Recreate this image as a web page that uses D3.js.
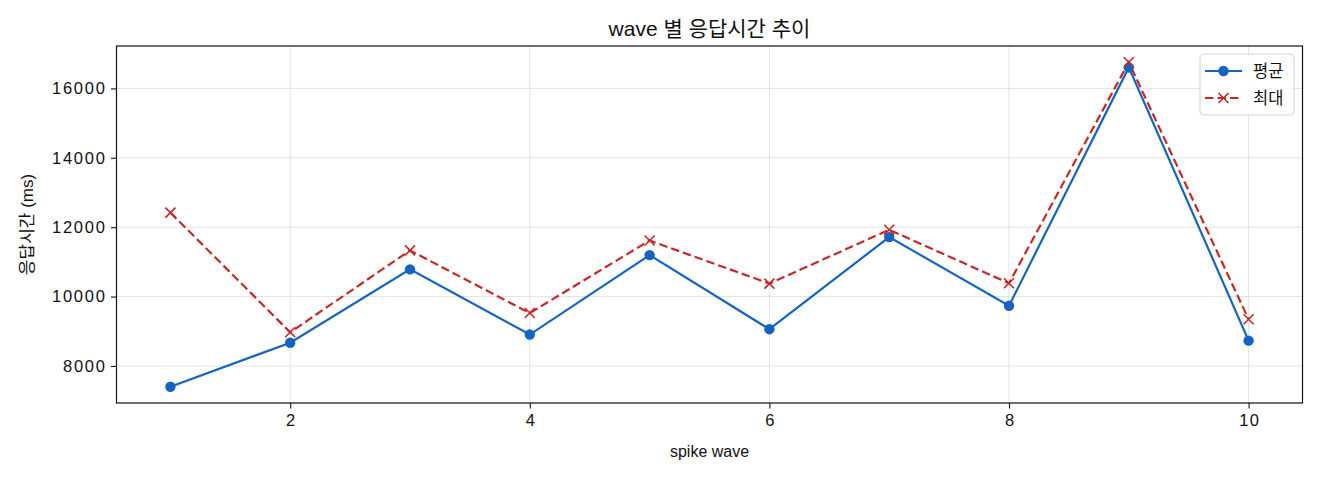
<!DOCTYPE html>
<html>
<head>
<meta charset="utf-8">
<script src="https://cdn.jsdelivr.net/npm/d3@7"></script>
<style>
  html, body { margin: 0; padding: 0; background: #ffffff; }
  svg { display: block; }
  text { font-family: "Liberation Sans", "Noto Sans CJK KR", sans-serif; fill: #111; }
</style>
</head>
<body>
<svg id="chart" width="1320" height="480"></svg>
<script>
// ---- data ----
const waves = [1, 2, 3, 4, 5, 6, 7, 8, 9, 10];
const avgValues = [7400, 8670, 10785, 8905, 11195, 9060, 11715, 9735, 16605, 8730];
const maxValues = [12420, 8970, 11330, 9525, 11615, 10375, 11925, 10383, 16755, 9345];
const xTicks = [2, 4, 6, 8, 10];
const yTicks = [8000, 10000, 12000, 14000, 16000];
const seriesNames = ["평균", "최대"];
const titleText = "wave 별 응답시간 추이";
const xLabel = "spike wave";
const yLabel = "응답시간 (ms)";

// ---- layout ----
const W = 1320, H = 480;
const M = { left: 116.5, right: 1320 - 1302.5, top: 46, bottom: 480 - 403 };
const blue = "#1565C0", red = "#C62828";

const svg = d3.select("#chart");

function padded(lo, hi) { const p = (hi - lo) * 0.05; return [lo - p, hi + p]; }
const allY = avgValues.concat(maxValues);
const x = d3.scaleLinear().domain(padded(d3.min(waves), d3.max(waves))).range([M.left, W - M.right]);
const y = d3.scaleLinear().domain(padded(d3.min(allY), d3.max(allY))).range([H - M.bottom, M.top]);

// grid
const grid = svg.append("g");
grid.selectAll("line.gx").data(xTicks).join("line")
  .attr("x1", d => x(d)).attr("x2", d => x(d))
  .attr("y1", M.top).attr("y2", H - M.bottom)
  .attr("stroke", "#e3e3e3").attr("stroke-width", 1);
grid.selectAll("line.gy").data(yTicks).join("line")
  .attr("y1", d => y(d)).attr("y2", d => y(d))
  .attr("x1", M.left).attr("x2", W - M.right)
  .attr("stroke", "#e3e3e3").attr("stroke-width", 1);

// axes
const xAxis = svg.append("g").attr("transform", `translate(0,${H - M.bottom})`)
  .call(d3.axisBottom(x).tickValues(xTicks).tickSize(5.5).tickPadding(6).tickFormat(d3.format("d")));
const yAxis = svg.append("g").attr("transform", `translate(${M.left},0)`)
  .call(d3.axisLeft(y).tickValues(yTicks).tickSize(5.5).tickPadding(6).tickFormat(d3.format("d")));
[xAxis, yAxis].forEach(a => {
  a.select(".domain").remove();
  a.selectAll(".tick line").attr("stroke", "#111").attr("stroke-width", 1.1);
  a.selectAll(".tick text").attr("font-size", 16.5)
    .attr("font-family", "\"Liberation Sans\", sans-serif").attr("fill", "#111");
});
xAxis.selectAll(".tick text").attr("letter-spacing", "1.5px").attr("dx", "0.75px");
yAxis.selectAll(".tick text").attr("letter-spacing", "1.8px").attr("dx", "1.8px");

// frame
svg.append("rect").attr("x", M.left).attr("y", M.top)
  .attr("width", W - M.left - M.right).attr("height", H - M.top - M.bottom)
  .attr("fill", "none").attr("stroke", "#111").attr("stroke-width", 1.2);

// lines
const line = d3.line().x((d, i) => x(waves[i])).y(d => y(d));
svg.append("path").datum(maxValues).attr("d", line)
  .attr("fill", "none").attr("stroke", red).attr("stroke-width", 2.2)
  .attr("stroke-dasharray", "8.5,4");
svg.append("path").datum(avgValues).attr("d", line)
  .attr("fill", "none").attr("stroke", blue).attr("stroke-width", 2.2);

// markers
svg.append("g").selectAll("circle").data(avgValues).join("circle")
  .attr("cx", (d, i) => x(waves[i])).attr("cy", d => y(d)).attr("r", 5.2).attr("fill", blue);
const xm = 5;
svg.append("g").selectAll("path").data(maxValues).join("path")
  .attr("d", (d, i) => {
    const cx = x(waves[i]), cy = y(d);
    return `M${cx - xm},${cy - xm}L${cx + xm},${cy + xm}M${cx - xm},${cy + xm}L${cx + xm},${cy - xm}`;
  })
  .attr("stroke", red).attr("stroke-width", 1.6).attr("fill", "none");

// title & labels
svg.append("text").attr("x", (M.left + W - M.right) / 2).attr("y", 36)
  .attr("text-anchor", "middle").attr("font-size", 21).text(titleText);
svg.append("text").attr("x", (M.left + W - M.right) / 2).attr("y", 457)
  .attr("text-anchor", "middle").attr("font-size", 16).text(xLabel);
svg.append("text")
  .attr("transform", `translate(33,${(M.top + H - M.bottom) / 2}) rotate(-90)`)
  .attr("text-anchor", "middle").attr("font-size", 17).text(yLabel);

// legend
const lg = svg.append("g");
lg.append("rect").attr("x", 1200).attr("y", 54).attr("width", 94).attr("height", 61)
  .attr("rx", 4).attr("fill", "#fff").attr("fill-opacity", 0.85)
  .attr("stroke", "#d6d6d6").attr("stroke-width", 1.1);
const rows = [71, 98];
seriesNames.forEach((name, i) => {
  const ry = rows[i];
  const c = i === 0 ? blue : red;
  const l = lg.append("line").attr("x1", 1205).attr("x2", 1242).attr("y1", ry).attr("y2", ry)
    .attr("stroke", c).attr("stroke-width", 2.2);
  if (i === 1) l.attr("stroke-dasharray", "8.5,4").attr("stroke-dashoffset", 0);
  if (i === 0) {
    lg.append("circle").attr("cx", 1223.5).attr("cy", ry).attr("r", 5.2).attr("fill", c);
  } else {
    lg.append("path").attr("d", `M${1223.5 - xm},${ry - xm}L${1223.5 + xm},${ry + xm}M${1223.5 - xm},${ry + xm}L${1223.5 + xm},${ry - xm}`)
      .attr("stroke", c).attr("stroke-width", 1.6);
  }
  lg.append("text").attr("x", 1253).attr("y", ry).attr("dy", "0.36em")
    .attr("font-size", 16.5).text(name);
});
</script>
</body>
</html>
